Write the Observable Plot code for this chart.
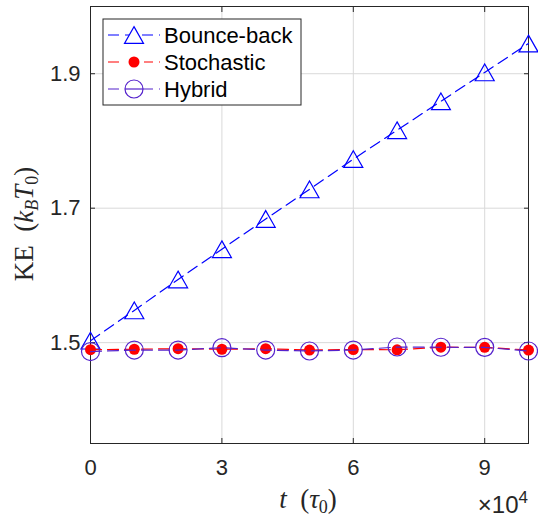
<!DOCTYPE html>
<html><head><meta charset="utf-8">
<script src="https://cdn.jsdelivr.net/npm/d3@7"></script>
<script src="https://cdn.jsdelivr.net/npm/@observablehq/plot@0.6"></script>
<style>body{margin:0;background:#fff}</style>
</head><body><div id="chart"></div>
<script>
const t = [0,1,2,3,4,5,6,7,8,9,10];
const bounceBack = [1.503,1.548,1.594,1.639,1.684,1.728,1.773,1.816,1.859,1.902,1.945];
const stochastic = [1.4896,1.4902,1.4910,1.4902,1.4910,1.4890,1.4898,1.4894,1.4933,1.4930,1.4890];
const hybrid = [1.4868,1.4890,1.4890,1.4925,1.4890,1.4876,1.4890,1.4935,1.4932,1.4930,1.4876];
const xTicks = [0,3,6,9];
const yTicks = [1.5,1.7,1.9];
const seriesNames = ["Bounce-back","Stochastic","Hybrid"];
const colors = {"Bounce-back":"#0000ff","Stochastic":"#ff0000","Hybrid":"#5522cc"};

const rows = [];
[[seriesNames[0],bounceBack],[seriesNames[1],stochastic],[seriesNames[2],hybrid]].forEach(([s,vals]) => {
  vals.forEach((v,i) => rows.push({series:s, t:t[i], ke:v}));
});
const bb = rows.filter(d => d.series === "Bounce-back");
const st = rows.filter(d => d.series === "Stochastic");
const hy = rows.filter(d => d.series === "Hybrid");

const triangle = {
  draw(ctx, size) {
    const r = Math.sqrt(size / Math.PI);
    ctx.moveTo(0, -0.88 * r);
    ctx.lineTo(r, 0.88 * r);
    ctx.lineTo(-r, 0.88 * r);
    ctx.closePath();
  }
};

const dash = "11,6";
const axisColor = "#262626";

const plot = Plot.plot({
  width: 538, height: 517,
  marginLeft: 90, marginRight: 10, marginTop: 6, marginBottom: 74,
  style: {fontFamily: "'Liberation Sans', Arial, sans-serif", fontSize: "22px", color: axisColor, background: "#fff"},
  x: {domain: [0, 10]},
  y: {domain: [1.35, 2.0]},
  marks: [
    Plot.gridX(xTicks, {stroke: "#d9d9d9", strokeOpacity: 1}),
    Plot.gridY(yTicks, {stroke: "#d9d9d9", strokeOpacity: 1}),
    Plot.frame({stroke: axisColor, strokeWidth: 1}),
    Plot.axisX(xTicks, {anchor: "bottom", tickSize: 0, tickPadding: 16, label: null, fill: axisColor}),
    Plot.axisY(yTicks, {anchor: "left", tickSize: 0, tickPadding: 10, label: null, fill: axisColor, tickFormat: d3.format(".1f")}),
    Plot.axisX(xTicks, {anchor: "bottom", tickSize: 5, dy: -5, fill: "none", label: null, stroke: axisColor}),
    Plot.axisX(xTicks, {anchor: "top", tickSize: 5, dy: 5, fill: "none", label: null, stroke: axisColor}),
    Plot.axisY(yTicks, {anchor: "left", tickSize: 5, dx: 5, fill: "none", label: null, stroke: axisColor}),
    Plot.axisY(yTicks, {anchor: "right", tickSize: 5, dx: -5, fill: "none", label: null, stroke: axisColor}),
    Plot.line(bb, {x: "t", y: "ke", stroke: colors["Bounce-back"], strokeWidth: 1.2, strokeDasharray: dash}),
    Plot.dot(bb, {x: "t", y: "ke", symbol: triangle, r: 9.5, stroke: colors["Bounce-back"], fill: "none", strokeWidth: 1.2}),
    Plot.line(st, {x: "t", y: "ke", stroke: colors["Stochastic"], strokeWidth: 1.2, strokeDasharray: dash}),
    Plot.dot(st, {x: "t", y: "ke", r: 5.5, fill: colors["Stochastic"], stroke: "none"}),
    Plot.line(hy, {x: "t", y: "ke", stroke: colors["Hybrid"], strokeWidth: 1.2, strokeDasharray: dash}),
    Plot.dot(hy, {x: "t", y: "ke", r: 9, stroke: colors["Hybrid"], fill: "none", strokeWidth: 1.2})
  ]
});
document.getElementById("chart").appendChild(plot);

const svg = d3.select(plot);
const serif = "'Liberation Serif', 'Times New Roman', serif";

// x label: t (τ0)
const xl = svg.append("text").attr("x", 308).attr("y", 508).attr("text-anchor", "middle")
  .attr("font-family", serif).attr("font-size", 27).attr("fill", axisColor)
  .style("white-space", "pre").attr("xml:space", "preserve");
xl.append("tspan").attr("font-style", "italic").text("t");
xl.append("tspan").text("  (");
xl.append("tspan").attr("font-style", "italic").text("τ");
xl.append("tspan").attr("font-size", 18).attr("dy", 5).text("0");
xl.append("tspan").attr("dy", -5).text(")");

// ×10^4
const ex = svg.append("text").attr("x", 528).attr("y", 513).attr("text-anchor", "end")
  .attr("font-size", 24).attr("fill", axisColor);
ex.append("tspan").text("×10");
ex.append("tspan").attr("font-size", 17).attr("dy", -10).text("4");

// y label: KE (k_B T_0)
const yl = svg.append("text").attr("transform", "translate(33,224) rotate(-90)").attr("text-anchor", "middle")
  .attr("font-family", serif).attr("font-size", 27).attr("fill", axisColor)
  .style("white-space", "pre").attr("xml:space", "preserve");
yl.append("tspan").text("KE  (");
yl.append("tspan").attr("font-style", "italic").text("k");
yl.append("tspan").attr("font-style", "italic").attr("font-size", 18).attr("dy", 5).text("B");
yl.append("tspan").attr("font-style", "italic").attr("dy", -5).text("T");
yl.append("tspan").attr("font-size", 18).attr("dy", 5).text("0");
yl.append("tspan").attr("dy", -5).text(")");

// legend
const lg = svg.append("g");
lg.append("rect").attr("x", 103).attr("y", 19).attr("width", 198).attr("height", 86)
  .attr("fill", "#fff").attr("stroke", axisColor).attr("stroke-width", 1);
seriesNames.forEach((name, i) => {
  const cy = 35 + i * 27;
  const c = colors[name];
  lg.append("line").attr("x1", 108).attr("x2", 160).attr("y1", cy).attr("y2", cy)
    .attr("stroke", c).attr("stroke-width", 1.2).attr("stroke-dasharray", dash);
  if (name === "Bounce-back") {
    const r = 9.5;
    lg.append("path").attr("d", `M134,${cy - 0.88*r}L${134 + r},${cy + 0.88*r}L${134 - r},${cy + 0.88*r}Z`)
      .attr("fill", "#fff").attr("stroke", c).attr("stroke-width", 1.2);
  } else if (name === "Stochastic") {
    lg.append("rect").attr("x", 124).attr("y", cy - 2).attr("width", 20).attr("height", 4).attr("fill", "#fff");
    lg.append("circle").attr("cx", 134).attr("cy", cy).attr("r", 5.5).attr("fill", c);
  } else {
    lg.append("circle").attr("cx", 134).attr("cy", cy).attr("r", 9).attr("fill", "#fff").attr("stroke", c).attr("stroke-width", 1.2);
    lg.append("line").attr("x1", 125).attr("x2", 143).attr("y1", cy).attr("y2", cy).attr("stroke", c).attr("stroke-width", 1.2);
  }
  lg.append("text").attr("x", 164).attr("y", cy).attr("dy", "0.35em").attr("font-size", 22)
    .attr("text-anchor", "start").attr("fill", "#000").text(name);
});
</script>
</body></html>
